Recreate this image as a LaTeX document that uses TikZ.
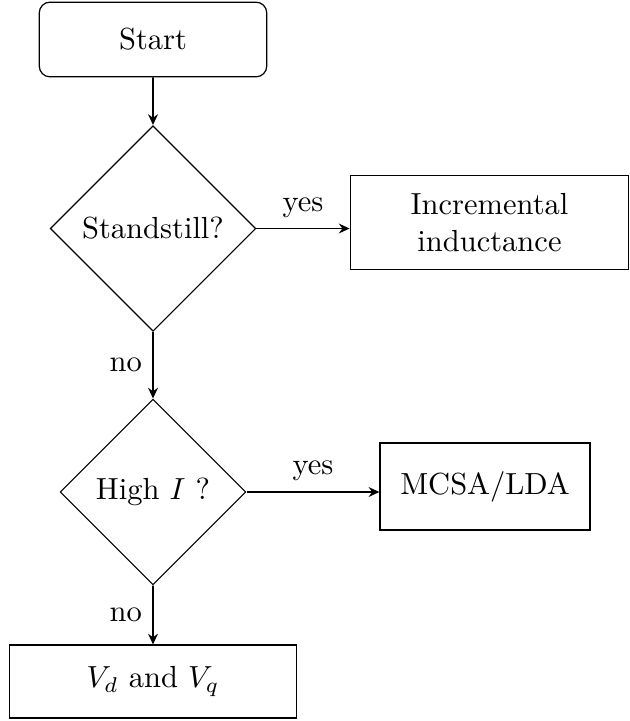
\documentclass[tikz,border=0pt]{standalone}
\usepackage{amsmath}
\usetikzlibrary{shapes.geometric,arrows.meta}

\begin{document}
\begin{tikzpicture}[scale=0.1152,
    box/.style={draw, rectangle, align=center, inner sep=2pt},
    decision/.style={draw, diamond, aspect=1, inner sep=0pt},
    flow/.style={-{Stealth[length=3.5pt,width=3.2pt]}, semithick}]
      \useasboundingbox (0,0) rectangle (62.9,-72.1);
      % blocks
      \node [box, rounded corners=3.5pt, minimum width=2.62cm, minimum height=0.86cm] (start) at (15.3,-3.95) {Start};
      \node [decision, minimum size=2.37cm] (standstill) at (15.3,-22.85) {Standstill?};
      \node [box, minimum width=3.21cm, minimum height=1.09cm] (incind) at (48.95,-22.25) {Incremental\\inductance};
      \node [decision, minimum size=2.14cm] (highcur) at (15.3,-49.2) {High $I$ ?};
      \node [box, minimum width=2.42cm, minimum height=1.0cm] (mcsa) at (48.5,-48.65) {MCSA/LDA};
      \node [box, minimum width=3.31cm, minimum height=0.84cm] (vdvq) at (15.3,-68.15) {$V_d$ and $V_q$};
      % connectors
      \draw [flow] (start) -- (standstill);
      \draw [flow] (standstill.east) -- node [above] {yes} (standstill.east -| incind.west);
      \draw [flow] (standstill) -- node [left] {no} (highcur);
      \draw [flow] (highcur.east) -- node [above] {yes} (highcur.east -| mcsa.west);
      \draw [flow] (highcur) -- node [left] {no} (vdvq);
    \end{tikzpicture}
\end{document}
